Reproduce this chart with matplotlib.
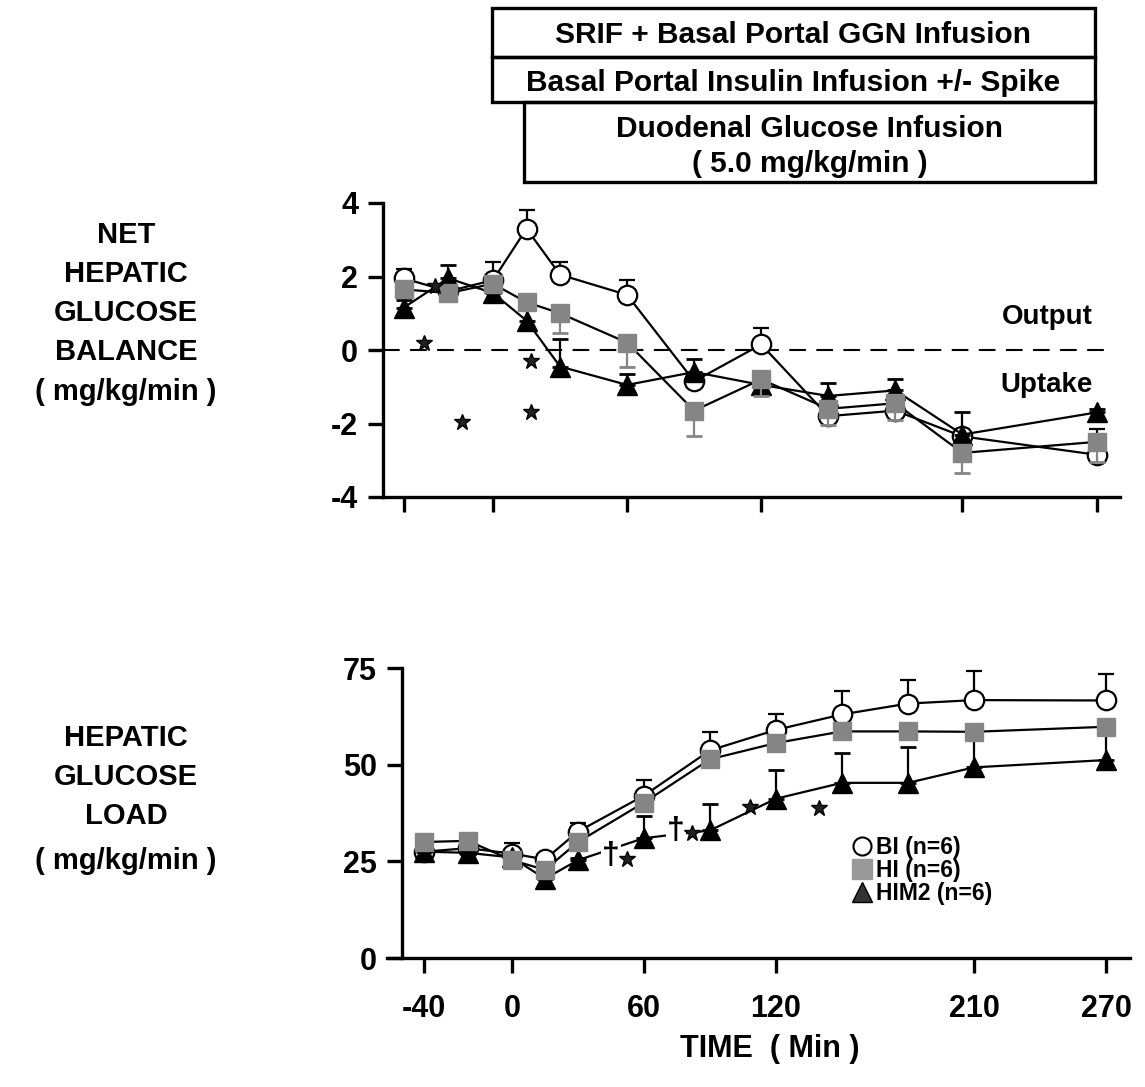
import matplotlib.pyplot as plt
from matplotlib.lines import Line2D
from matplotlib.patches import Rectangle

plt.rcParams['font.family'] = ['Liberation Sans', 'DejaVu Sans']
plt.rcParams['font.weight'] = 'bold'
plt.rcParams['axes.unicode_minus'] = False

W, H = 1145, 1087

time = [-40, -20, 0, 15, 30, 60, 90, 120, 150, 180, 210, 270]
xticks = [-40, 0, 60, 120, 210, 270]

# net hepatic glucose balance (mg/kg/min), mean and one-sided SEM
nhgb_bi = [1.95, 1.6, 1.9, 3.3, 2.05, 1.5, -0.85, 0.15, -1.8, -1.65, -2.35, -2.85]
nhgb_bi_err = [0.25, 0.2, 0.5, 0.5, 0.35, 0.4, 0.2, 0.45, 0.2, 0.2, 0.2, 0.7]
nhgb_hi = [1.65, 1.55, 1.8, 1.3, 1.0, 0.2, -1.65, -0.8, -1.6, -1.45, -2.8, -2.5]
nhgb_hi_err = [0.2, 0.2, 0.2, 0.2, 0.55, 0.65, 0.7, 0.45, 0.45, 0.45, 0.55, 0.55]
nhgb_him2 = [1.15, 1.95, 1.55, 0.8, -0.45, -0.95, -0.6, -0.95, -1.25, -1.1, -2.3, -1.7]
nhgb_him2_err = [0.2, 0.35, 0.3, 0.3, 0.75, 0.3, 0.35, 0.2, 0.35, 0.3, 0.6, 0.1]
nhgb_star_t = [-31, -26, -14, 17, 17]
nhgb_star_v = [0.2, 1.75, -1.95, -0.3, -1.68]

# hepatic glucose load (mg/kg/min)
load_bi = [27.5, 28.4, 27.0, 25.5, 32.7, 42.0, 53.7, 59.0, 63.0, 65.8, 66.7, 66.6]
load_bi_err = [1.0, 1.0, 2.7, 1.0, 2.3, 4.0, 4.7, 4.2, 6.0, 6.2, 7.5, 6.8]
load_hi = [30.0, 30.3, 25.3, 22.8, 30.0, 40.2, 51.4, 55.6, 58.6, 58.6, 58.5, 59.8]
load_hi_err = [1.0, 1.0, 1.0, 1.0, 1.0, 1.0, 1.0, 1.0, 1.0, 1.0, 1.0, 1.0]
load_him2 = [27.5, 27.2, 26.0, 20.5, 25.3, 31.0, 33.0, 41.2, 45.3, 45.3, 49.3, 51.2]
load_him2_err = [0.5, 0.5, 0.5, 0.5, 0.5, 5.7, 6.8, 7.5, 7.8, 9.2, 9.0, 7.0]
load_dagger_t = [45, 74.5]
load_dagger_v = [26.5, 32.8]
load_star_t = [52.3, 81.8, 108, 139.5]
load_star_v = [25.6, 32.2, 39, 38.8]

GRAY = '#858585'


def fx(px):
    return px / W


def fy(py):
    return 1 - py / H


fig = plt.figure(figsize=(W / 100, H / 100), dpi=100)


def draw_series(ax, bi, bi_err, hi, hi_err, him2, him2_err):
    zero = [0] * len(time)
    ax.errorbar(time, bi, yerr=[zero, bi_err], fmt='-o', color='black', mfc='white',
                mec='black', mew=1.6, ms=14, lw=1.6, capsize=6, capthick=2,
                elinewidth=1.6, zorder=3, clip_on=False)
    ax.errorbar(time, him2, yerr=[zero, him2_err], fmt='-^', color='black', mfc='black',
                mec='black', ms=14, lw=1.6, capsize=6, capthick=2,
                elinewidth=1.6, zorder=4, clip_on=False)
    ax.errorbar(time, hi, yerr=[hi_err, zero], fmt='s', color=GRAY, ms=13, mec=GRAY,
                capsize=6, capthick=2, elinewidth=1.6, zorder=5, clip_on=False)
    ax.plot(time, hi, color='black', lw=1.6, zorder=4.5)


def style_axes(ax):
    for s in ['top', 'right']:
        ax.spines[s].set_visible(False)
    for s in ['left', 'bottom']:
        ax.spines[s].set_linewidth(2.4)
    ax.tick_params(direction='out', length=11, width=2.4, labelsize=22)
    ax.set_xticks(xticks)


# ---- top panel ----
ax1 = fig.add_axes([fx(383), fy(497), fx(1120) - fx(383), fy(203) - fy(497)])
ax1.set_xlim(-49.2, 280.5)
ax1.set_ylim(-4, 4)
style_axes(ax1)
ax1.set_yticks([-4, -2, 0, 2, 4])
ax1.set_xticklabels([])
ax1.tick_params(axis='y', pad=7)
ax1.axhline(0, xmin=0, xmax=0.98, color='black', lw=1.5, dashes=(8, 5), zorder=1)
draw_series(ax1, nhgb_bi, nhgb_bi_err, nhgb_hi, nhgb_hi_err, nhgb_him2, nhgb_him2_err)
ax1.plot(nhgb_star_t, nhgb_star_v, '*', color='#222222', mec='black', ms=12, ls='none', zorder=6)
ax1.text(268.5, 0.9, 'Output', ha='right', va='center', fontsize=20)
ax1.text(268.5, -0.95, 'Uptake', ha='right', va='center', fontsize=20)

# ---- bottom panel ----
ax2 = fig.add_axes([fx(387), fy(958), fx(1130) - fx(387), fy(668) - fy(958)])
ax2.set_xlim(-56.8, 280.9)
ax2.set_ylim(0, 75)
style_axes(ax2)
ax2.spines['left'].set_position(('data', -50))
ax2.set_yticks([0, 25, 50, 75])
ax2.tick_params(axis='y', pad=7)
ax2.tick_params(axis='x', pad=15)
draw_series(ax2, load_bi, load_bi_err, load_hi, load_hi_err, load_him2, load_him2_err)
for t, v in zip(load_dagger_t, load_dagger_v):
    ax2.text(t, v, '\u2020', ha='center', va='center', fontsize=23, zorder=4.2,
             bbox=dict(facecolor='white', edgecolor='none', pad=1))
ax2.plot(load_star_t, load_star_v, '*', color='#222222', mec='black', ms=12, ls='none', zorder=6)

handles = [
    Line2D([], [], marker='o', ls='none', mfc='white', mec='black', mew=1.5, ms=13),
    Line2D([], [], marker='s', ls='none', mfc='#999999', mec='#999999', ms=14),
    Line2D([], [], marker='^', ls='none', mfc='#333333', mec='black', ms=15),
]
ax2.legend(handles, ['BI (n=6)', 'HI (n=6)', 'HIM2 (n=6)'], loc='upper left',
           bbox_to_anchor=(fx(839), fy(825)), bbox_transform=fig.transFigure,
           frameon=False, fontsize=16.5, handlelength=1.0, handletextpad=0.1,
           labelspacing=0.0, borderpad=0)

fig.text(fx(770), fy(1057), 'TIME  ( Min )', ha='center', va='baseline', fontsize=22)

# ---- y labels ----
for txt, y in zip(['NET', 'HEPATIC', 'GLUCOSE', 'BALANCE', '( mg/kg/min )'],
                  [243, 282, 321, 360, 400]):
    fig.text(fx(126), fy(y), txt, ha='center', va='baseline', fontsize=21)
for txt, y in zip(['HEPATIC', 'GLUCOSE', 'LOAD', '( mg/kg/min )'],
                  [746, 785, 824, 869]):
    fig.text(fx(126), fy(y), txt, ha='center', va='baseline', fontsize=21)

# ---- protocol boxes ----
for x0, y0, x1, y1 in [(492, 8, 1095, 57), (492, 57, 1095, 102), (524, 102, 1095, 182)]:
    fig.patches.append(Rectangle((fx(x0), fy(y1)), fx(x1) - fx(x0), fy(y0) - fy(y1),
                                 transform=fig.transFigure, fill=False, lw=2.4,
                                 edgecolor='black'))
fig.text(fx(793), fy(43), 'SRIF + Basal Portal GGN Infusion', ha='center', va='baseline', fontsize=21.5)
fig.text(fx(793), fy(91), 'Basal Portal Insulin Infusion +/- Spike', ha='center', va='baseline', fontsize=21.5)
fig.text(fx(810), fy(137), 'Duodenal Glucose Infusion', ha='center', va='baseline', fontsize=21.5)
fig.text(fx(810), fy(172), '( 5.0 mg/kg/min )', ha='center', va='baseline', fontsize=21.5)

fig.savefig('out.png', dpi=100)
